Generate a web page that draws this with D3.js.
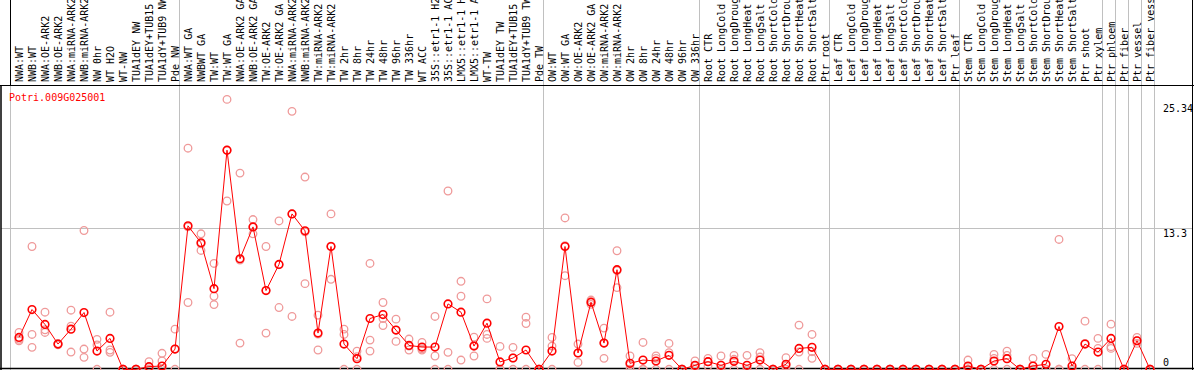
<!DOCTYPE html>
<html>
<head>
<meta charset="utf-8">
<script src="https://cdn.jsdelivr.net/npm/d3@7"></script>
<style>
  body { margin: 0; background: #fff; }
  text { font-family: "DejaVu Sans Mono", monospace; font-size: 10px; }
</style>
</head>
<body>
<div id="chart"></div>
<script>
const geneName = "Potri.009G025001";

const categories = [
  "NWA:WT", "NWB:WT", "NWA:OE-ARK2", "NWB:OE-ARK2", "NWA:miRNA-ARK2", "NWB:miRNA-ARK2",
  "NW 0hr", "WT H2O", "WT-NW", "TUA1dEY NW", "TUA1dEY+TUB15 NW", "TUA1dY+TUB9 NW", "Pde NW",
  "NWA:WT GA", "NWBWT GA", "TW:WT", "TW:WT GA", "NWA:OE-ARK2 GA", "NWB:OE-ARK2 GA",
  "TW:OE-ARK2", "TW:OE-ARK2 GA", "NWA:miRNA-ARK2", "NWB:miRNA-ARK2", "TW:miRNA-ARK2",
  "TW:miRNA-ARK2", "TW 2hr", "TW 8hr", "TW 24hr", "TW 48hr", "TW 96hr", "TW 336hr",
  "WT ACC", "35S::etr1-1 H2O", "35S::etr1-1 ACC", "LMX5::etr1-1 H2O", "LMX5::etr1-1 ACC",
  "WT-TW", "TUA1dEY TW", "TUA1dEY+TUB15 TW", "TUA1dY+TUB9 TW", "Pde TW",
  "OW:WT", "OW:WT GA", "OW:OE-ARK2", "OW:OE-ARK2 GA", "OW:miRNA-ARK2", "OW:miRNA-ARK2",
  "OW 2hr", "OW 8hr", "OW 24hr", "OW 48hr", "OW 96hr", "OW 336hr",
  "Root CTR", "Root LongCold", "Root LongDrought", "Root LongHeat", "Root LongSalt",
  "Root ShortCold", "Root ShortDrought", "Root ShortHeat", "Root ShortSalt", "Ptr root",
  "Leaf CTR", "Leaf LongCold", "Leaf LongDrought", "Leaf LongHeat", "Leaf LongSalt",
  "Leaf ShortCold", "Leaf ShortDrought", "Leaf ShortHeat", "Leaf ShortSalt", "Ptr leaf",
  "Stem CTR", "Stem LongCold", "Stem LongDrought", "Stem LongHeat", "Stem LongSalt",
  "Stem ShortCold", "Stem ShortDrought", "Stem ShortHeat", "Stem ShortSalt", "Ptr shoot",
  "Ptr xylem", "Ptr phloem", "Ptr fiber", "Ptr vessel", "Ptr fiber vessel"
];

// first category index of each separated group
const groupStarts = [0, 13, 41, 53, 63, 73, 84, 85, 86, 87, 88];

const means = [
  2.99, 5.61, 4.21, 2.37, 3.77, 5.33, 1.71, 2.90, 0, 0, 0.25, 0.31, 1.90,
  13.47, 11.88, 7.57, 20.57, 10.38, 13.37, 7.39, 9.85, 14.59, 13.00, 3.40, 11.53,
  2.37, 1.00, 4.77, 5.14, 3.68, 2.24, 2.09, 2.09, 6.14, 5.36, 2.18, 4.33, 0.69,
  1.06, 1.81, 0,
  1.71, 11.53, 1.53, 6.30, 2.46, 9.35, 0.56, 0.87, 0.78, 1.31, 0, 0.37,
  0.72, 0.37, 0.75, 0.37, 0.87, 0, 0.47, 1.96, 2.06, 0,
  0, 0, 0, 0, 0, 0, 0, 0, 0, 0,
  0.31, 0, 0.78, 1.00, 0, 0.31, 0.47, 4.02, 0.31, 2.37, 1.62,
  2.90, 0, 2.68, 0
];

const replicates = [
  [3.46, 2.81, 2.68], [11.53, 3.27, 2.06], [5.36, 3.71, 3.46], [2.30, 2.40, 2.40],
  [5.55, 4.05, 1.62], [13.03, 1.90, 1.12], [2.81, 2.28, 0], [5.36, 1.81, 1.59],
  [0, 0, 0], [0, 0, 0], [0.72, 0, 0], [1.50, 0.78, 0], [3.77, 1.90, 0],
  [20.76, 13.37, 6.27], [12.72, 11.78, 11.16], [9.94, 6.86, 6.08], [25.34, 20.57, 15.80],
  [18.42, 10.26, 2.46], [14.06, 13.37, 12.72], [11.53, 7.39, 3.40], [13.93, 9.82, 5.80],
  [24.22, 14.59, 4.96], [18.05, 12.91, 8.04], [5.08, 3.30, 1.81], [14.59, 11.56, 8.45],
  [3.77, 3.27, 0], [1.71, 1.18, 0], [9.94, 2.74, 1.71], [6.27, 4.77, 4.11],
  [4.71, 3.68, 2.62], [2.84, 2.18, 1.81], [2.52, 1.93, 1.81], [4.96, 1.25, 0],
  [16.74, 1.59, 0], [8.26, 6.86, 0.87], [3.02, 2.24, 1.25], [6.61, 3.27, 2.90],
  [2.15, 0, 0], [2.06, 1.06, 0], [4.89, 4.30, 0], [0, 0, 0],
  [2.99, 2.18, 0], [14.21, 11.60, 8.79], [2.37, 1.53, 0.65], [6.10, 6.30, 6.50],
  [3.87, 2.46, 1.03], [11.13, 9.26, 7.67], [1.25, 0.41, 0], [2.52, 0, 0],
  [1.25, 1.03, 0], [2.43, 1.56, 0], [0, 0, 0], [0.78, 0.30, 0],
  [1.03, 0.72, 0.31], [1.25, 0, 0], [1.31, 0.94, 0], [1.31, 0, 0], [1.56, 1.15, 0],
  [0, 0, 0], [1.09, 0.30, 0], [4.15, 1.62, 0], [3.27, 1.65, 1.03], [0, 0, 0],
  [0, 0, 0], [0, 0, 0], [0, 0, 0], [0, 0, 0], [0, 0, 0],
  [0, 0, 0], [0, 0, 0], [0, 0, 0], [0, 0, 0], [0, 0, 0],
  [0.87, 0, 0], [0, 0, 0], [1.40, 1.03, 0], [1.71, 1.31, 0], [0, 0, 0],
  [1.03, 0, 0], [1.40, 0, 0], [12.19, 0, 0], [1.00, 0, 0], [4.52, 2.43, 0],
  [2.90, 1.96, 0],
  [4.24, 2.12, 1.96], [0, 0, 0], [2.99, 2.68, 2.43], [0, 0, 0]
];

const yTicks = [0, 13.3, 25.34];

const width = 1194, height = 370;
const headerH = 85;

const svg = d3.select("#chart").append("svg")
  .attr("width", width)
  .attr("height", height);

const x = d3.scaleBand()
  .domain(d3.range(categories.length))
  .range([11, 11 + 13 * categories.length]);
const px = i => x(i) + 8;

const y = d3.scaleLinear()
  .domain([0, 25.34])
  .range([369.3, 99.4]);

// group separators (through header and plot)
svg.selectAll(".sep")
  .data(groupStarts)
  .enter().append("line")
  .attr("x1", d => (d < categories.length ? x(d) : x.range()[1]) - 0.5)
  .attr("x2", d => (d < categories.length ? x(d) : x.range()[1]) - 0.5)
  .attr("y1", 0)
  .attr("y2", height)
  .attr("stroke", "#c0c0c0");

// gridline at 13.3
svg.append("line")
  .attr("x1", 1).attr("x2", width - 1)
  .attr("y1", Math.round(y(13.3)) + 0.5).attr("y2", Math.round(y(13.3)) + 0.5)
  .attr("stroke", "#c0c0c0");

// frame
svg.append("line").attr("x1", 0).attr("x2", width).attr("y1", headerH + 0.5).attr("y2", headerH + 0.5).attr("stroke", "#000");
svg.append("line").attr("x1", 0).attr("x2", width).attr("y1", 368.5).attr("y2", 368.5).attr("stroke", "#000").attr("stroke-width", 1.5);
svg.append("line").attr("x1", 1).attr("x2", 1).attr("y1", headerH).attr("y2", height).attr("stroke", "#000").attr("stroke-width", 1.5);
svg.append("line").attr("x1", 10.5).attr("x2", 10.5).attr("y1", 0).attr("y2", headerH).attr("stroke", "#000");
svg.append("line").attr("x1", width - 1.5).attr("x2", width - 1.5).attr("y1", 0).attr("y2", height).attr("stroke", "#000");

// header labels (long ones run off the top, as in the original)
svg.selectAll(".lab")
  .data(categories)
  .enter().append("text")
  .attr("transform", (d, i) => `translate(${px(i)},82) rotate(-90)`)
  .attr("dy", "0.35em")
  .attr("fill", "#000")
  .text(d => d);

// right axis labels
const tickY = { 0: 366, 13.3: 236.5, 25.34: 112 };
svg.selectAll(".ytick")
  .data(yTicks)
  .enter().append("text")
  .attr("x", 1163)
  .attr("y", d => tickY[d])
  .attr("fill", "#000")
  .text(d => d);

svg.append("text")
  .attr("x", 9)
  .attr("y", 101)
  .attr("fill", "#ff0000")
  .text(geneName);

// replicate circles
const repData = [];
replicates.forEach((reps, i) => reps.forEach(v => repData.push({ i, v })));
svg.append("g").selectAll("circle")
  .data(repData)
  .enter().append("circle")
  .attr("cx", d => px(d.i))
  .attr("cy", d => y(d.v))
  .attr("r", 3.8)
  .attr("fill", "none")
  .attr("stroke", "#ef9a9a")
  .attr("stroke-width", 1.3);

svg.append("path")
  .datum(means)
  .attr("fill", "none")
  .attr("stroke", "#ff0000")
  .attr("stroke-width", 1)
  .attr("d", d3.line().x((d, i) => px(i)).y(d => y(d)));

svg.append("g").selectAll("circle")
  .data(means)
  .enter().append("circle")
  .attr("cx", (d, i) => px(i))
  .attr("cy", d => y(d))
  .attr("r", 3.8)
  .attr("fill", "none")
  .attr("stroke", "#ff0000")
  .attr("stroke-width", 1.6);
</script>
</body>
</html>
